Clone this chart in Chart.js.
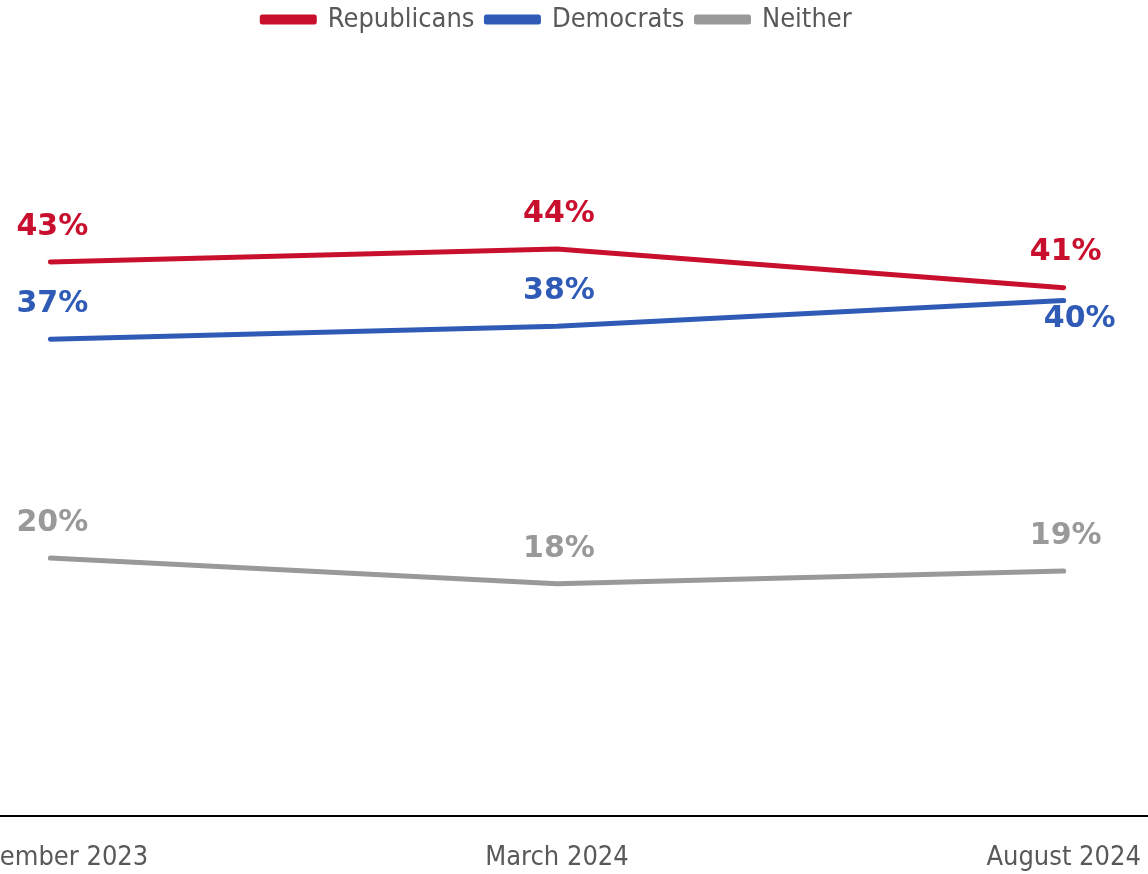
<!DOCTYPE html>
<html lang="en">
<head>
    <meta charset="UTF-8">
    <title>Republicans vs Democrats</title>
    <script src="https://cdn.jsdelivr.net/npm/chart.js"></script>
    <style>
        body { margin: 0; overflow: hidden; background: #fff; }
        /* the plot is wider than the window: the first label is cut at the left edge */
        .chart-box { position: absolute; left: -203px; top: 0; width: 1520px; height: 874px; }
    </style>
</head>
<body>
    <div class="chart-box">
        <canvas id="partyChart"></canvas>
    </div>

    <script>
        // Dados
        const periods = ['November 2023', 'March 2024', 'August 2024'];
        const republicans = [43, 44, 41];
        const democrats = [37, 38, 40];
        const neither = [20, 18, 19];

        // rótulo abaixo do ponto (só o 40% dos democratas)
        const labelBelow = {
            Republicans: [false, false, false],
            Democrats: [false, false, true],
            Neither: [false, false, false]
        };

        const textFont = "'DejaVu Sans Condensed', 'DejaVu Sans', sans-serif";

        // Plugin simples para escrever os valores acima de cada ponto
        const valueLabels = {
            id: 'valueLabels',
            afterDatasetsDraw(chart) {
                const ctx = chart.ctx;
                chart.data.datasets.forEach((ds, i) => {
                    const meta = chart.getDatasetMeta(i);
                    const below = labelBelow[ds.label];
                    meta.data.forEach((pt, j) => {
                        ctx.save();
                        ctx.font = "bold 30px 'DejaVu Sans', sans-serif";
                        ctx.fillStyle = ds.borderColor;
                        ctx.textAlign = 'center';
                        ctx.textBaseline = 'middle';
                        if (below[j]) {
                            ctx.fillText(ds.data[j] + '%', pt.x + 16, pt.y + 19);
                        } else {
                            ctx.fillText(ds.data[j] + '%', pt.x + 2, pt.y - 35);
                        }
                        ctx.restore();
                    });
                });
            }
        };

        function lineSet(label, data, color) {
            return {
                label: label,
                data: data,
                borderColor: color,
                backgroundColor: color,
                borderWidth: 5,
                borderCapStyle: 'round',
                borderJoinStyle: 'round',
                pointRadius: 0,
                tension: 0,
                clip: false
            };
        }

        const ctx = document.getElementById('partyChart').getContext('2d');
        new Chart(ctx, {
            type: 'line',
            data: {
                labels: periods,
                datasets: [
                    lineSet('Republicans', republicans, '#C8102E'),
                    lineSet('Democrats', democrats, '#2F5BB7'),
                    lineSet('Neither', neither, '#999999')
                ]
            },
            options: {
                responsive: true,
                maintainAspectRatio: false,
                animation: false,
                layout: { padding: { top: -6, bottom: -26 } },
                scales: {
                    x: {
                        offset: true,
                        grid: { display: false, drawTicks: false },
                        border: { display: true, color: '#000000', width: 2 },
                        ticks: {
                            color: '#595959',
                            padding: 26,
                            maxRotation: 0,
                            font: { family: textFont, size: 27 }
                        }
                    },
                    y: {
                        display: false,
                        min: 0,
                        max: 60
                    }
                },
                plugins: {
                    legend: {
                        position: 'top',
                        labels: {
                            color: '#595959',
                            boxWidth: 52,
                            boxHeight: 5,
                            padding: 12,
                            font: { family: textFont, size: 27 }
                        }
                    },
                    tooltip: { enabled: false }
                }
            },
            plugins: [valueLabels]
        });
    </script>
</body>
</html>
